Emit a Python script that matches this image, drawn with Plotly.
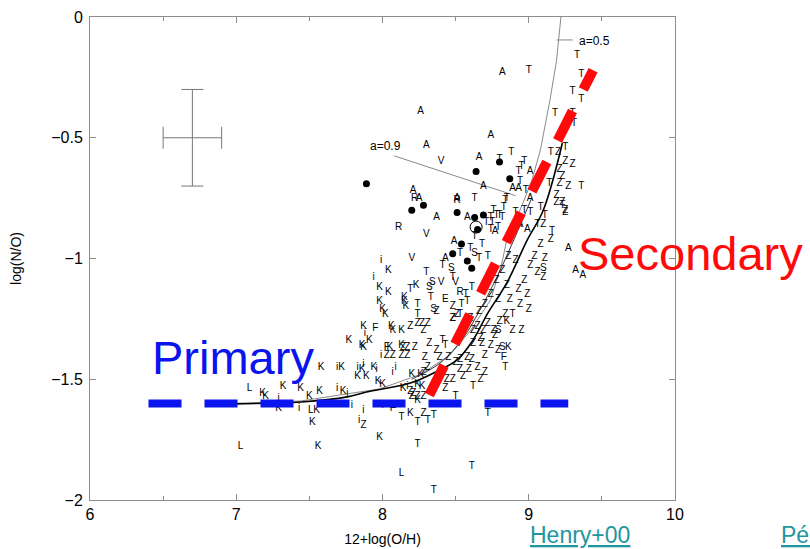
import plotly.graph_objects as go

# ---------------- data ----------------
A_x = [8.82, 8.26, 8.74, 8.30, 8.66, 8.69, 9.01, 8.89, 8.93, 8.21, 8.25, 8.51, 8.37, 9.01, 8.58,
       8.49, 8.43, 9.27, 9.32, 9.37, 8.94, 8.99, 8.77, 8.93]
A_y = [-0.23, -0.39, -0.49, -0.53, -0.58, -0.70, -0.64, -0.71, -0.71, -0.72, -0.75, -0.75, -0.83, -0.75, -0.83,
       -0.93, -1.00, -0.96, -1.05, -1.07, -0.86, -0.88, -0.89, -0.86]

T_x = [9.33, 9.36, 9.00, 9.30, 9.36, 9.18, 9.30, 9.31, 8.88, 8.80, 9.15, 9.25, 8.97, 8.95, 8.93, 8.94, 8.98,
       8.63, 8.85, 8.84, 8.83, 9.14, 9.36, 9.23, 8.76, 8.78, 8.74, 8.80, 8.71, 8.75, 8.74, 8.79, 8.82,
       8.91, 8.97, 9.01, 9.08, 9.11, 9.06, 9.16, 8.53, 8.41, 8.48, 8.30, 8.19, 8.61, 8.57, 8.24, 8.24,
       8.33, 8.54, 8.58, 8.53, 8.89, 8.84, 8.41, 8.43, 8.50, 8.62, 8.72, 8.13, 8.24, 8.35, 8.31, 8.24,
       8.61, 8.35, 8.63, 8.68, 8.60, 8.72, 8.66]
T_y = [-0.16, -0.24, -0.22, -0.31, -0.34, -0.40, -0.40, -0.44, -0.56, -0.59, -0.56, -0.54, -0.60, -0.62, -0.64, -0.68, -0.72,
       -0.75, -0.75, -0.76, -0.79, -0.69, -0.70, -0.78, -0.80, -0.82, -0.83, -0.82, -0.85, -0.85, -0.88, -0.87, -0.83,
       -0.81, -0.80, -0.81, -0.79, -0.82, -0.86, -0.89, -0.98, -1.03, -1.08, -1.06, -1.13, -1.12, -1.15, -1.19, -1.23,
       -1.16, -1.19, -1.18, -1.23, -1.23, -1.45, -1.34, -1.36, -1.57, -1.53, -1.64, -1.66, -1.68, -1.65, -1.67, -1.77,
       -1.86, -1.96, -0.91, -0.94, -0.96, -0.99, -1.00]

Z_x = [9.21, 9.25, 9.30, 9.23, 9.21, 9.27, 9.19, 9.19, 9.23, 9.25, 9.25, 9.20,
       9.10, 9.15, 9.08, 9.04, 9.11, 9.01, 9.06, 9.10, 8.97, 8.93, 8.99, 8.87, 8.94, 9.00, 8.84, 8.80,
       8.89, 8.95, 8.77, 8.72, 8.76, 8.69, 8.65, 8.62, 8.67, 8.62, 8.68, 8.74, 8.79, 8.70, 8.61, 8.58,
       8.53, 8.50, 8.59, 8.65, 8.70, 8.67, 8.55, 8.53, 8.48, 8.43, 8.44, 8.37, 8.45, 8.39, 8.29, 8.31,
       8.28, 8.21, 8.24, 8.28, 8.19, 8.20, 8.28, 8.32, 8.19, 8.24, 8.28, 8.31, 8.27, 8.14, 8.22, 8.17,
       8.03, 8.07, 8.13, 8.17, 8.48, 8.48, 8.51, 8.48, 8.37, 7.87, 8.86, 8.91, 8.82, 8.78, 8.85, 8.74,
       8.79, 8.70, 8.66, 8.60]
Z_y = [-0.63, -0.60, -0.61, -0.66, -0.69, -0.70, -0.74, -0.77, -0.77, -0.80, -0.81, -0.56,
       -0.86, -0.92, -0.94, -0.99, -1.00, -1.03, -1.06, -1.08, -1.09, -1.13, -1.15, -1.17, -1.19, -1.21, -1.23, -1.26,
       -1.30, -1.30, -1.32, -1.27, -1.30, -1.30, -1.28, -1.30, -1.33, -1.35, -1.35, -1.36, -1.38, -1.40, -1.42, -1.41,
       -1.42, -1.43, -1.46, -1.45, -1.47, -1.50, -1.49, -1.46, -1.50, -1.54, -1.50, -1.38, -1.41, -1.41, -1.41, -1.45,
       -1.47, -1.56, -1.57, -1.57, -1.55, -1.57, -1.64, -1.35, -1.28, -1.27, -1.30, -1.27, -1.27, -1.37, -1.37, -1.40,
       -1.40, -1.40, -1.40, -1.37, -1.20, -1.25, -1.23, -1.25, -1.22, -1.69, -0.99, -1.01, -1.05, -1.09, -1.11, -1.15,
       -1.17, -1.19, -1.22, -1.25]

K_x = [7.98, 8.04, 8.15, 8.15, 8.16, 7.98, 8.00, 8.02, 7.87, 7.91, 7.86, 7.87, 8.06, 8.07, 8.13, 7.77, 8.05,
       8.13, 7.58, 7.72, 7.18, 7.20, 7.32, 7.44, 7.50, 7.57, 7.73, 7.29, 7.55, 7.52, 7.98, 7.56, 7.86, 7.83,
       7.89, 7.94, 7.97, 8.00, 8.20, 8.14, 8.24, 8.19, 8.07, 8.26, 8.24, 8.27, 8.86, 8.85, 8.04, 8.23]
K_y = [-1.12, -1.14, -1.16, -1.18, -1.20, -1.18, -1.21, -1.23, -1.28, -1.34, -1.36, -1.37, -1.28, -1.30, -1.30, -1.34, -1.37,
       -1.36, -1.45, -1.45, -1.56, -1.57, -1.53, -1.54, -1.57, -1.55, -1.55, -1.62, -1.63, -1.68, -1.74, -1.78, -1.46, -1.49,
       -1.49, -1.45, -1.51, -1.52, -1.48, -1.54, -1.59, -1.64, -1.61, -1.48, -1.52, -1.53, -1.37, -1.26, -1.05, -1.11]

i_x = [7.99, 7.94, 7.88, 7.99, 7.69, 7.69, 7.76, 7.43, 7.79, 7.87, 7.84, 7.83, 7.87, 7.96, 8.09, 8.07, 8.00, 8.17, 7.29]
i_y = [-1.01, -1.08, -1.31, -1.40, -1.45, -1.54, -1.56, -1.62, -1.61, -1.63, -1.67, -1.45, -1.44, -1.46, -1.45, -1.47, -1.61, -1.53, -1.58]

L_x = [7.09, 7.51, 7.03, 8.13]
L_y = [-1.54, -1.63, -1.78, -1.89]

S_x = [8.63, 8.47, 8.32, 8.34, 8.35, 8.79, 9.10, 8.82]
S_y = [-0.98, -1.04, -1.12, -1.10, -1.21, -1.30, -1.04, -1.37]

V_x = [8.40, 8.30, 8.20, 8.40, 8.50]
V_y = [-0.60, -0.90, -1.00, -1.10, -1.10]

R_x = [8.22, 8.11, 8.51, 8.53]
R_y = [-0.75, -0.87, -0.76, -1.14]

F_x = [7.95, 8.03, 8.83, 8.07]
F_y = [-1.29, -1.37, -1.41, -1.62]

E_x = [8.43]
E_y = [-1.17]

dot_x = [7.89, 8.80, 8.64, 8.87, 8.20, 8.28, 8.51, 8.63, 8.69, 8.65, 8.54, 8.48, 8.58, 8.61]
dot_y = [-0.69, -0.60, -0.64, -0.67, -0.80, -0.78, -0.81, -0.83, -0.82, -0.88, -0.94, -0.98, -1.01, -1.04]

ring_x = [8.64]
ring_y = [-0.87]

# model curves
curve_x = [6.97, 7.44, 7.76, 7.89, 8.19, 8.35, 8.51, 8.62, 8.72, 8.85, 8.99, 9.10, 9.23]
curve_y = [-1.602, -1.594, -1.573, -1.553, -1.516, -1.474, -1.420, -1.337, -1.226, -1.101, -0.923, -0.799, -0.522]

curve2_x = [8.20, 8.40, 8.55, 8.66, 8.78, 8.90, 9.02]
curve2_y = [-1.50, -1.43, -1.33, -1.22, -1.08, -0.92, -0.75]

a05_x = [6.97, 7.44, 7.98, 8.26, 8.46, 8.60, 8.74, 8.82, 8.86, 8.94, 9.02, 9.08, 9.145, 9.19, 9.22]
a05_y = [-1.60, -1.59, -1.54, -1.48, -1.40, -1.30, -1.17, -1.01, -0.89, -0.80, -0.68, -0.55, -0.344, -0.18, 0.0]

a09_x = [8.08, 8.91]
a09_y = [-0.575, -0.74]

a05_tick_x = [9.19, 9.30]
a05_tick_y = [-0.095, -0.095]

primary_x = [6.4, 9.27]
primary_y = [-1.6, -1.6]

secondary_x = [8.32, 9.44]
secondary_y = [-1.565, -0.22]

err_x = [6.70]
err_y = [-0.50]
err_dx = [0.20]
err_dy = [0.20]

x_ticks = [6, 7, 8, 9, 10]
y_ticks = [0, -0.5, -1, -1.5, -2]

# ---------------- figure ----------------
FONT = "Liberation Sans, Arial, Helvetica, sans-serif"
fig = go.Figure()

# model curves
fig.add_trace(go.Scatter(x=a05_x, y=a05_y, mode="lines", line=dict(color="#8a8a8a", width=1), hoverinfo="skip"))
fig.add_trace(go.Scatter(x=a09_x, y=a09_y, mode="lines", line=dict(color="#8a8a8a", width=1), hoverinfo="skip"))
fig.add_trace(go.Scatter(x=a05_tick_x, y=a05_tick_y, mode="lines", line=dict(color="#8a8a8a", width=1), hoverinfo="skip"))
fig.add_trace(go.Scatter(x=curve2_x, y=curve2_y, mode="lines", line=dict(color="#333333", width=1, shape="spline"), hoverinfo="skip"))
fig.add_trace(go.Scatter(x=curve_x, y=curve_y, mode="lines", line=dict(color="black", width=1.6, shape="spline"), hoverinfo="skip"))

# error cross
fig.add_trace(go.Scatter(x=err_x, y=err_y, mode="markers", marker=dict(size=1, color="rgba(0,0,0,0)"),
                         error_x=dict(type="data", array=err_dx, color="#777777", thickness=1, width=11),
                         error_y=dict(type="data", array=err_dy, color="#777777", thickness=1, width=11),
                         hoverinfo="skip"))

# letters
for lx, ly, ch in [(A_x, A_y, "A"), (T_x, T_y, "T"), (Z_x, Z_y, "Z"), (K_x, K_y, "K"), (i_x, i_y, "i"),
                   (L_x, L_y, "L"), (S_x, S_y, "S"), (V_x, V_y, "V"), (R_x, R_y, "R"), (F_x, F_y, "F"),
                   (E_x, E_y, "E")]:
    fig.add_trace(go.Scatter(x=lx, y=ly, mode="text", text=[ch] * len(lx),
                             textfont=dict(family=FONT, size=10, color="black"), hoverinfo="skip"))

fig.add_trace(go.Scatter(x=dot_x, y=dot_y, mode="markers", marker=dict(size=7, color="black"), hoverinfo="skip"))
fig.add_trace(go.Scatter(x=ring_x, y=ring_y, mode="markers",
                         marker=dict(size=12, color="rgba(0,0,0,0)", line=dict(color="black", width=1)), hoverinfo="skip"))

# Primary / Secondary dashed lines
fig.add_trace(go.Scatter(x=primary_x, y=primary_y, mode="lines",
                         line=dict(color="#0a14ee", width=8, dash="33px,23px"), hoverinfo="skip"))
fig.add_trace(go.Scatter(x=secondary_x, y=secondary_y, mode="lines",
                         line=dict(color="#ff0a0a", width=10, dash="33px,24px"), hoverinfo="skip"))

fig.add_annotation(x=8.02, y=-0.534, text="a=0.9", showarrow=False, xanchor="center", yanchor="middle",
                   font=dict(family=FONT, size=12, color="black"))
fig.add_annotation(x=9.33, y=-0.10, text="a=0.5", showarrow=False, xanchor="left", yanchor="middle",
                   font=dict(family=FONT, size=12, color="black"))

fig.add_annotation(x=6.41, y=-1.41, text="Primary", showarrow=False, xanchor="left", yanchor="middle",
                   font=dict(family=FONT, size=47, color="#0a14ee"))
fig.add_annotation(x=9.32, y=-0.98, text="Secondary", showarrow=False, xanchor="left", yanchor="middle",
                   font=dict(family=FONT, size=47, color="#ff0a0a"))

fig.add_annotation(xref="paper", yref="paper", x=0.748, y=-0.072, text="<u>Henry+00</u>", showarrow=False,
                   xanchor="left", yanchor="middle", font=dict(family=FONT, size=23, color="#1f96a0"))
fig.add_annotation(xref="paper", yref="paper", x=1.178, y=-0.072, text="<u>Pérez</u>", showarrow=False,
                   xanchor="left", yanchor="middle", font=dict(family=FONT, size=23, color="#1f96a0"))

fig.update_layout(
    width=810, height=549,
    margin=dict(l=90, r=135, t=17, b=49),
    paper_bgcolor="white", plot_bgcolor="white",
    showlegend=False,
    font=dict(family=FONT, color="black"),
)
fig.update_xaxes(range=[6, 10], tickvals=x_ticks, ticktext=[str(v) for v in x_ticks], automargin=False,
                 showgrid=False, zeroline=False, showline=True, mirror="ticks", linecolor="#8c8c8c", linewidth=1,
                 ticks="inside", ticklen=6, tickcolor="#8c8c8c",
                 minor=dict(dtick=0.5, ticks="inside", ticklen=4, tickcolor="#8c8c8c"),
                 tickfont=dict(size=16),
                 title=dict(text="12+log(O/H)", font=dict(size=14), standoff=11))
fig.update_yaxes(range=[-2, 0], tickvals=y_ticks, showgrid=False, zeroline=False, showline=True, mirror="ticks",
                 linecolor="#8c8c8c", linewidth=1, ticks="inside", ticklen=6, tickcolor="#8c8c8c", automargin=False,
                 tickfont=dict(size=16), tickformat=".1~f", ticklabelstandoff=3,
                 title=dict(text="log(N/O)", font=dict(size=14), standoff=26))

fig.write_html("out.html")
